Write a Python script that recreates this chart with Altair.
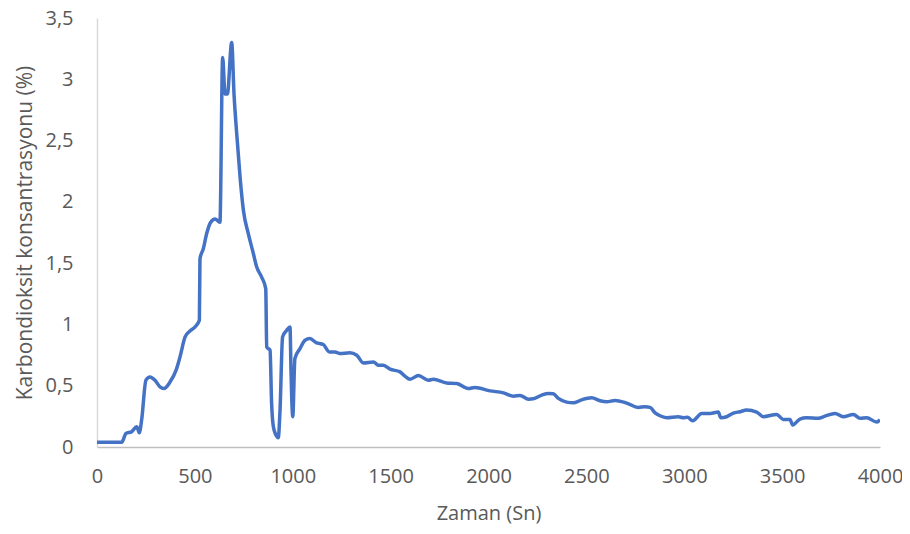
import altair as alt
import pandas as pd

zaman = [0, 126, 148, 177, 203, 216, 228, 250, 271, 296, 322, 342, 373, 404, 424, 450, 475, 501,
         523, 526, 543, 560, 581, 603, 628, 642, 654, 666, 688, 700, 714, 731, 748, 773, 799, 816,
         841, 862, 867, 884, 892, 901, 914, 926, 935, 948, 969, 986, 991, 1000, 1011, 1037, 1063,
         1088, 1119, 1156, 1187, 1216, 1241, 1292, 1327, 1361, 1412, 1437, 1463, 1497, 1548, 1573,
         1599, 1642, 1693, 1718, 1786, 1838, 1897, 1931, 2008, 2076, 2127, 2161, 2204, 2229, 2272,
         2306, 2331, 2357, 2399, 2433, 2476, 2527, 2570, 2604, 2646, 2706, 2765, 2800, 2825, 2851,
         2876, 2910, 2970, 2995, 3016, 3043, 3089, 3132, 3174, 3186, 3217, 3251, 3285, 3319, 3370,
         3404, 3472, 3506, 3540, 3554, 3591, 3625, 3685, 3719, 3770, 3812, 3864, 3898, 3932, 3983,
         4000]

co2 = [0.038, 0.038, 0.11, 0.125, 0.165, 0.117, 0.22, 0.545, 0.572, 0.545, 0.49, 0.477, 0.53,
       0.627, 0.735, 0.898, 0.947, 0.98, 1.034, 1.536, 1.617, 1.74, 1.834, 1.861, 1.834, 3.177,
       2.879, 2.879, 3.30, 2.879, 2.55, 2.2, 1.929, 1.74, 1.577, 1.468, 1.386, 1.292, 0.816, 0.79,
       0.356, 0.165, 0.098, 0.076, 0.30, 0.898, 0.952, 0.98, 0.627, 0.247, 0.722, 0.803, 0.871,
       0.885, 0.852, 0.836, 0.776, 0.776, 0.762, 0.768, 0.749, 0.686, 0.694, 0.667, 0.667, 0.635,
       0.613, 0.578, 0.553, 0.583, 0.545, 0.553, 0.523, 0.518, 0.477, 0.486, 0.458, 0.442, 0.415,
       0.421, 0.39, 0.393, 0.423, 0.437, 0.434, 0.396, 0.366, 0.36, 0.385, 0.401, 0.377, 0.369,
       0.38, 0.358, 0.323, 0.328, 0.323, 0.279, 0.255, 0.239, 0.247, 0.239, 0.242, 0.214, 0.274,
       0.274, 0.285, 0.239, 0.247, 0.277, 0.288, 0.301, 0.285, 0.247, 0.266, 0.225, 0.225, 0.179,
       0.228, 0.239, 0.234, 0.252, 0.274, 0.247, 0.266, 0.234, 0.239, 0.204, 0.222]

df = pd.DataFrame({"Zaman": zaman, "CO2": co2})

FONT = "Open Sans"
GRAY = "#595959"

chart = alt.Chart(df).mark_line(
    color="#4472C4", strokeWidth=3.5, interpolate="monotone", clip=True
).encode(
    x=alt.X("Zaman:Q",
            scale=alt.Scale(domain=[0, 4000], nice=False),
            axis=alt.Axis(title="Zaman (Sn)", values=list(range(0, 4001, 500)), format="d",
                          grid=False, ticks=False, domainColor="#bfbfbf", domainWidth=1.5,
                          labelPadding=19, titlePadding=17, labelFontSize=20, titleFontSize=20,
                          labelColor=GRAY, titleColor=GRAY, labelFont=FONT, titleFont=FONT,
                          titleFontWeight="normal", labelFlush=False)),
    y=alt.Y("CO2:Q",
            scale=alt.Scale(domain=[0, 3.5], nice=False),
            axis=alt.Axis(title="Karbondioksit konsantrasyonu (%)",
                          values=[0, 0.5, 1, 1.5, 2, 2.5, 3, 3.5], format="~g",
                          labelExpr="replace(datum.label, '.', ',')",
                          grid=False, ticks=False, domainColor="#d9d9d9", domainWidth=1.5,
                          labelPadding=24, titlePadding=9, labelFontSize=20, titleFontSize=21,
                          labelColor=GRAY, titleColor=GRAY, labelFont=FONT, titleFont=FONT,
                          titleFontWeight="normal", labelFlush=False)),
).properties(
    width=783, height=429,
    autosize=alt.AutoSizeParams(type="none"),
    padding={"left": 89, "top": 10, "right": 22, "bottom": 79},
).configure_view(stroke=None)

chart.save("out.html", embed_options={"renderer": "svg", "actions": False})
